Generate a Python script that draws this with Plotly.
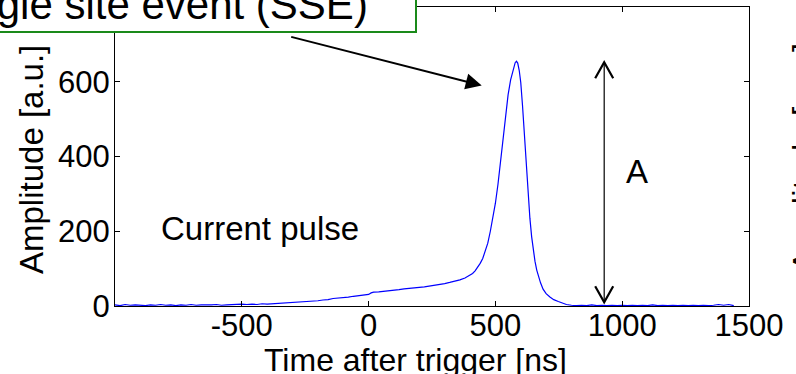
import plotly.graph_objects as go

# ---- data ----
time_ns = [-1000, -980, -960, -940, -920, -900, -880, -860, -840, -820,
           -800, -780, -760, -740, -720, -700, -680, -660, -640, -620,
           -600, -580, -560, -540, -520, -500, -480, -460, -440, -420,
           -400, -380, -360, -340, -320, -300, -280, -260, -240, -220,
           -200, -180, -160, -140, -120, -100, -80, -60, -40, -20,
           0, 10, 20, 40, 60, 80, 100, 120, 140, 160,
           180, 200, 220, 240, 260, 280, 300, 320, 340, 360,
           380, 400, 410, 420, 430, 440, 450, 460, 470, 480,
           490, 500, 510, 520, 530, 540, 550, 560, 570, 578,
           583, 588, 594, 600, 607, 613, 618, 623, 629, 636,
           643, 649, 656, 663, 669, 678, 688, 700, 715, 730,
           748, 765, 780, 800, 820, 840, 860, 880, 900, 920,
           940, 960, 980, 1000, 1020, 1040, 1060, 1080, 1100, 1120,
           1140, 1160, 1180, 1200, 1220, 1240, 1260, 1280, 1300, 1320,
           1340, 1360, 1380, 1400, 1420, 1440]
amplitude = [3, 1, 4, 2, 3, 2, 1, 3, 2, 4,
             2, 3, 1, 3, 2, 4, 2, 3, 2, 3,
             4, 2, 3, 4, 3, 5, 4, 5, 4, 6,
             5, 6, 7, 7, 8, 9, 9, 11, 12, 13,
             14, 16, 17, 20, 21, 23, 24, 26, 28, 29,
             31, 35, 37, 38, 39, 41, 43, 44, 46, 48,
             49, 50, 51, 53, 54, 57, 60, 63, 66, 70,
             75, 82, 87, 94, 103, 114, 127, 145, 168, 200,
             233, 275, 325, 388, 455, 515, 565, 605, 635, 651,
             655, 650, 630, 598, 535, 470, 410, 350, 290, 235,
             185, 150, 120, 96, 80, 62, 45, 33, 24, 17,
             12, 7, 4, 2, 1, 2, 1, 3, 1, 2,
             1, 2, 1, 2, 1, 2, 1, 2, 1, 3,
             1, 2, 1, 2, 1, 2, 1, 2, 1, 2,
             1, 2, 4, 2, 4, 1]

x_tick_vals = [-500, 0, 500, 1000, 1500]
x_tick_text = ["-500", "0", "500", "1000", "1500"]
y_tick_vals = [0, 200, 400, 600]
y_tick_text = ["0", "200", "400", "600"]

x_title = "Time after trigger [ns]"
y_title = "Amplitude [a.u.]"
box_label = "Single site event (SSE)"
pulse_label = "Current pulse"
amp_label = "A"

# ---- layout geometry (pixels) ----
W, H = 796, 374
L, R, T, B = 115, 749, 7, 306
PW, PH = R - L, B - T


def px(xp):
    return (xp - L) / PW


def py(yp):
    return (B - yp) / PH


FONT = "Liberation Sans, Arial, Helvetica, sans-serif"

fig = go.Figure()
fig.add_trace(go.Scatter(x=time_ns, y=amplitude, mode="lines",
                         line=dict(color="#0000ff", width=1.2),
                         showlegend=False, hoverinfo="skip"))

axis_common = dict(showline=True, linecolor="black", linewidth=1,
                   mirror="ticks", ticks="inside", ticklen=5, tickwidth=1,
                   tickcolor="black", showgrid=False, zeroline=False,
                   automargin=False,
                   tickfont=dict(family=FONT, size=31, color="black"))

fig.update_xaxes(range=[-1000, 1500], tickvals=x_tick_vals,
                 ticktext=x_tick_text, ticklabelstandoff=-8, **axis_common)
fig.update_yaxes(range=[0, 800], tickvals=y_tick_vals,
                 ticktext=y_tick_text, ticklabelstandoff=-2, **axis_common)

shapes = [
    # SSE label box (white, green border) covering the top-left corner
    dict(type="rect", xref="paper", yref="paper",
         x0=px(-20), x1=px(416), y0=py(32), y1=py(-20),
         line=dict(color="#1a8a1a", width=2), fillcolor="white",
         layer="above"),
    # amplitude double arrow shaft
    dict(type="line", xref="x", yref="y", x0=929, x1=929,
         y0=amplitude[-5] + 8, y1=max(amplitude) - 3,
         line=dict(color="black", width=1.2), layer="above"),
    # top chevron
    dict(type="path", xref="x", yref="y", xsizemode="pixel",
         ysizemode="pixel", xanchor=929, yanchor=max(amplitude) - 3,
         path="M-9,-16 L0,0 L9,-16", line=dict(color="black", width=2.2),
         layer="above"),
    # bottom chevron
    dict(type="path", xref="x", yref="y", xsizemode="pixel",
         ysizemode="pixel", xanchor=929, yanchor=amplitude[-5] + 8,
         path="M-9,16 L0,0 L9,16", line=dict(color="black", width=2.2),
         layer="above"),
]

annotations = [
    dict(text=box_label, xref="paper", yref="paper", x=px(370), y=py(4.5),
         xanchor="right", yanchor="middle", showarrow=False,
         font=dict(family=FONT, size=42, color="black")),
    dict(text="", xref="x", yref="y", x=446, y=590, ax=-192, ay=-49,
         showarrow=True, arrowhead=2, arrowwidth=2, arrowsize=1.6,
         arrowcolor="black"),
    dict(text=amp_label, xref="x", yref="y", x=1058, y=360,
         showarrow=False, font=dict(family=FONT, size=33, color="black")),
    dict(text=pulse_label, xref="x", yref="y", x=-429, y=207,
         showarrow=False, font=dict(family=FONT, size=33, color="black")),
    dict(text=x_title, xref="paper", yref="paper", x=px(415), y=py(360),
         xanchor="center", yanchor="middle", showarrow=False,
         font=dict(family=FONT, size=32, color="black")),
    dict(text=y_title, xref="paper", yref="paper", x=px(31.5), y=py(159.5),
         xanchor="center", yanchor="middle", textangle=-90, showarrow=False,
         font=dict(family=FONT, size=33, color="black")),
    # neighbouring panel's axis label, mostly outside the crop
    dict(text=y_title, xref="paper", yref="paper", x=px(804), y=py(157),
         xanchor="center", yanchor="middle", textangle=-90, showarrow=False,
         font=dict(family=FONT, size=33, color="black")),
]

fig.update_layout(width=W, height=H,
                  margin=dict(l=L, r=W - R, t=T, b=H - B, pad=0),
                  paper_bgcolor="white", plot_bgcolor="white",
                  shapes=shapes, annotations=annotations,
                  font=dict(family=FONT, color="black"))

fig.write_html("out.html", config={"displayModeBar": False},
               post_script="document.body.style.margin='0px';"
                           "document.body.style.overflow='hidden';")
